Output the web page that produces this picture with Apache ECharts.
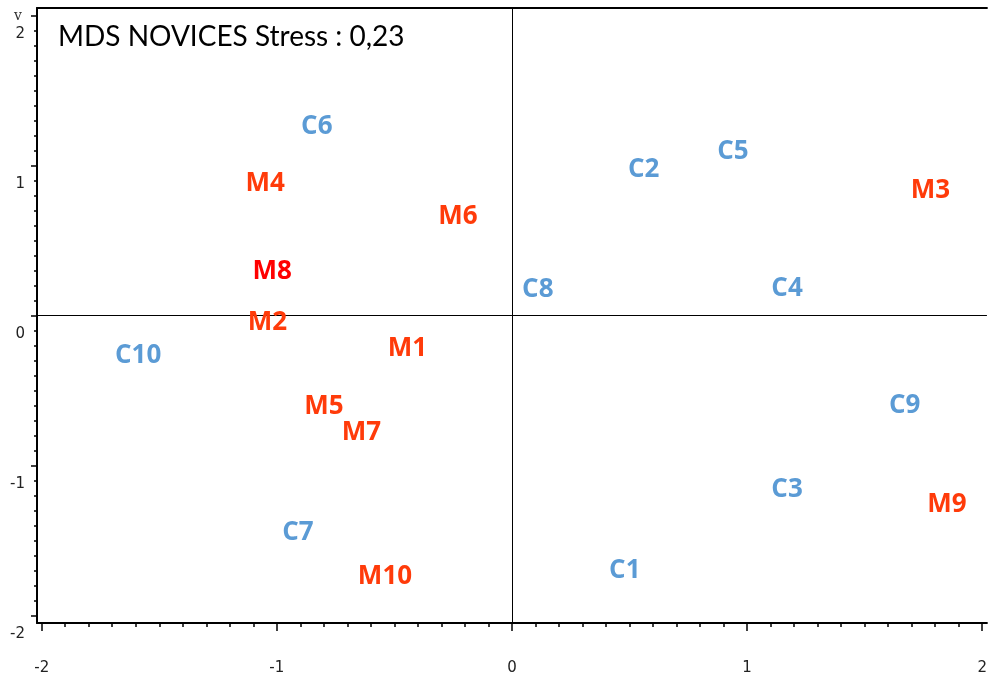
<!DOCTYPE html>
<html>
<head>
<meta charset="utf-8">
<script src="https://cdn.jsdelivr.net/npm/echarts@6/dist/echarts.min.js"></script>
<style>
  html, body { margin: 0; padding: 0; background: #fff; }
  #chart { width: 990px; height: 677px; }
</style>
</head>
<body>
<div id="chart"></div>
<script>
// MDS coordinates
const blueNames = ['C1', 'C2', 'C3', 'C4', 'C5', 'C6', 'C7', 'C8', 'C9', 'C10']
const blueX = [0.48, 0.56, 1.17, 1.17, 0.94, -0.83, -0.91, 0.11, 1.67, -1.59]
const blueY = [-1.70, 0.97, -1.16, 0.18, 1.09, 1.26, -1.45, 0.17, -0.60, -0.27]

const redNames = ['M1', 'M2', 'M3', 'M4', 'M5', 'M6', 'M7', 'M8', 'M9', 'M10']
const redX = [-0.445, -1.04, 1.78, -1.05, -0.80, -0.23, -0.64, -1.02, 1.85, -0.54]
const redY = [-0.22, -0.05, 0.83, 0.88, -0.61, 0.66, -0.78, 0.29, -1.26, -1.74]

const xTicks = [-2, -1, 0, 1, 2]
const yTicks = [-2, -1, 0, 1, 2]
const titleText = 'MDS NOVICES Stress : 0,23'

const xMin = -2.02, xMax = 2.02
const yMin = -2.05, yMax = 2.05

// minor ticks every 0.1
const minorX = []
const minorY = []
for (let i = -20; i <= 20; i++) {
  minorX.push(i / 10)
  minorY.push(i / 10)
}

const chart = echarts.init(document.getElementById('chart'))

function pts(names, xs, ys) {
  return names.map((n, i) => ({ name: n, value: [xs[i], ys[i]] }))
}

function labelSeries(data, color) {
  return {
    type: 'scatter',
    xAxisIndex: 0,
    yAxisIndex: 0,
    symbolSize: 1,
    itemStyle: { color: 'rgba(0,0,0,0)', opacity: 1 },
    data: data,
    label: {
      show: true,
      position: 'inside',
      formatter: p => p.name,
      color: color,
      opacity: 1,
      textBorderWidth: 0,
      fontFamily: 'Open Sans',
      fontWeight: 'bold',
      fontSize: 26
    },
    emphasis: { disabled: true },
    silent: true,
    z: 5
  }
}

const redData = pts(redNames, redX, redY)
// M8 is drawn in a purer red
redData[7].label = { color: '#ff0000' }

const lineBlack = { color: '#000', width: 2 }

chart.setOption({
  animation: false,
  grid: { left: 37, right: 0, top: 8, bottom: 54 },
  graphic: [
    {
      type: 'text',
      left: 58,
      top: 23,
      style: { text: titleText, font: '28px Lato', fill: '#000' }
    },
    {
      type: 'text',
      left: 14,
      top: 9,
      style: { text: 'v', font: '14px "DejaVu Serif"', fill: '#333' }
    }
  ],
  xAxis: [
    {
      type: 'value', min: xMin, max: xMax, position: 'bottom',
      axisLine: { show: true, onZero: false, lineStyle: lineBlack },
      axisTick: { show: true, customValues: minorX, length: 4, lineStyle: { color: '#000', width: 1.5 } },
      axisLabel: { show: false },
      splitLine: { show: false }
    },
    {
      type: 'value', min: xMin, max: xMax, position: 'bottom',
      axisLine: { show: false, onZero: false },
      axisTick: { show: true, customValues: xTicks, length: 8, lineStyle: { color: '#000', width: 1.5 } },
      axisLabel: { show: true, customValues: xTicks, margin: 38, color: '#222', fontSize: 15, fontFamily: 'DejaVu Sans' },
      splitLine: { show: false }
    },
    {
      type: 'value', min: xMin, max: xMax, position: 'top',
      axisLine: { show: true, onZero: false, lineStyle: lineBlack },
      axisTick: { show: false },
      axisLabel: { show: false },
      splitLine: { show: false }
    }
  ],
  yAxis: [
    {
      type: 'value', min: yMin, max: yMax, position: 'left',
      axisLine: { show: true, onZero: false, lineStyle: lineBlack },
      axisTick: { show: true, customValues: minorY, length: 3, lineStyle: { color: '#000', width: 1.5 } },
      axisLabel: { show: false },
      splitLine: { show: false }
    },
    {
      type: 'value', min: yMin, max: yMax, position: 'left',
      axisLine: { show: false, onZero: false },
      axisTick: { show: true, customValues: yTicks, length: 6, lineStyle: { color: '#000', width: 1.5 } },
      axisLabel: {
        show: true, customValues: yTicks, margin: 12, color: '#222', fontSize: 15,
        fontFamily: 'DejaVu Sans', verticalAlign: 'top', padding: [11, 0, 0, 0]
      },
      splitLine: { show: false }
    }
  ],
  series: [
    Object.assign(labelSeries(pts(blueNames, blueX, blueY), '#5b9bd5'), {
      markLine: {
        silent: true,
        symbol: 'none',
        label: { show: false },
        lineStyle: { color: '#000', width: 1, type: 'solid', opacity: 1 },
        emphasis: { disabled: true },
        data: [{ xAxis: 0 }, { yAxis: 0 }]
      }
    }),
    labelSeries(redData, '#ff3b0a')
  ]
})
</script>
</body>
</html>
